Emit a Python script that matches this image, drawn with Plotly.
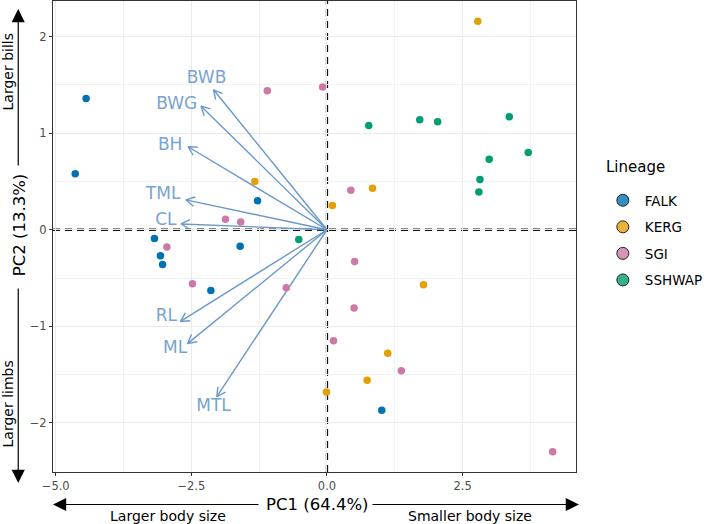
import math
import plotly.graph_objects as go

# ---------------- data ----------------
lineages = ["FALK", "KERG", "SGI", "SSHWAP"]
lineage_colors = ["#0072B2", "#E69F00", "#CC79A7", "#009E73"]
legend_fill = ["rgba(0,114,178,0.8)", "rgba(230,159,0,0.8)",
               "rgba(204,121,167,0.8)", "rgba(0,158,115,0.8)"]

falk_pc1 = [-4.44, -4.64, -1.28, -3.18, -3.07, -3.03, -1.60, -2.14, 1.01]
falk_pc2 = [1.36, 0.58, 0.30, -0.09, -0.27, -0.36, -0.17, -0.63, -1.87]
kerg_pc1 = [-1.33, 0.10, -0.01, 2.78, 0.84, 1.78, 1.12, 0.74]
kerg_pc2 = [0.50, 0.25, -1.68, 2.16, 0.43, -0.57, -1.28, -1.56]
sgi_pc1 = [-1.10, -0.08, -1.87, -1.59, -2.95, -2.48, -0.75, 0.12, 0.44, 0.51, 0.50, 1.37, 4.16]
sgi_pc2 = [1.44, 1.48, 0.11, 0.08, -0.18, -0.56, -0.60, -1.15, 0.41, -0.33, -0.81, -1.46, -2.30]
sshwap_pc1 = [-0.52, 0.77, 1.71, 2.04, 3.36, 3.71, 2.99, 2.82, 2.80]
sshwap_pc2 = [-0.10, 1.08, 1.14, 1.12, 1.17, 0.80, 0.73, 0.52, 0.39]

variables = ["BWB", "BWG", "BH", "TML", "CL", "RL", "ML", "MTL"]
load_pc1 = [-2.09, -2.32, -2.56, -2.60, -2.69, -2.70, -2.57, -2.03]
load_pc2 = [1.45, 1.28, 0.86, 0.31, 0.06, -0.95, -1.18, -1.73]
label_pc1 = [-2.22, -2.77, -2.89, -3.02, -2.97, -2.96, -2.80, -2.09]
label_pc2 = [1.56, 1.30, 0.875, 0.36, 0.09, -0.90, -1.23, -1.83]

x_tickvals = [-5.0, -2.5, 0.0, 2.5]
x_ticktext = ["\u22125.0", "\u22122.5", "0.0", "2.5"]
y_tickvals = [-2, -1, 0, 1, 2]
y_ticktext = ["\u22122", "\u22121", "0", "1", "2"]

x_title = "PC1 (64.4%)"
y_title = "PC2 (13.3%)"
x_left_note, x_right_note = "Larger body size", "Smaller body size"
y_top_note, y_bottom_note = "Larger bills", "Larger limbs"
legend_title = "Lineage"

# ---------------- layout constants ----------------
W, H = 709, 524
ML, MR, MT, MB = 53, 122, 1, 52
PW, PH = W - ML - MR, H - MT - MB
PB = H - MB  # pixel y of plot bottom
x_range = [-5.05, 4.59]
y_range = [-2.51, 2.37]
sx = PW / (x_range[1] - x_range[0])
sy = PH / (y_range[1] - y_range[0])

FONT = "DejaVu Sans"
ARROW_COL = "#6A98CA"
LABEL_COL = "#78A3D4"


def px2paper(px, py):
    return (px - ML) / PW, (PB - py) / PH


fig = go.Figure()

# ---- loading arrows (line + open V head) ----
arr_x, arr_y = [], []
head_len, head_ang = 10.0, math.radians(28)
for lx, ly in zip(load_pc1, load_pc2):
    arr_x += [0, lx, None]
    arr_y += [0, ly, None]
    dxp, dyp = lx * sx, ly * sy
    L = math.hypot(dxp, dyp)
    bx, by = -dxp / L, -dyp / L
    legs = []
    for s in (1, -1):
        a = s * head_ang
        rx = bx * math.cos(a) - by * math.sin(a)
        ry = bx * math.sin(a) + by * math.cos(a)
        legs.append((lx + head_len * rx / sx, ly + head_len * ry / sy))
    arr_x += [legs[0][0], lx, legs[1][0], None]
    arr_y += [legs[0][1], ly, legs[1][1], None]

fig.add_trace(go.Scatter(x=arr_x, y=arr_y, mode="lines",
                         line=dict(color=ARROW_COL, width=1.4),
                         hoverinfo="skip", showlegend=False))

# ---- points ----
series = [(falk_pc1, falk_pc2), (kerg_pc1, kerg_pc2),
          (sgi_pc1, sgi_pc2), (sshwap_pc1, sshwap_pc2)]
for name, col, (xs, ys) in zip(lineages, lineage_colors, series):
    fig.add_trace(go.Scatter(x=xs, y=ys, mode="markers", name=name,
                             marker=dict(color=col, size=7.5, line=dict(width=0)),
                             showlegend=False))

# ---- loading labels ----
fig.add_trace(go.Scatter(x=label_pc1, y=label_pc2, mode="text", text=variables,
                         textposition="middle center",
                         textfont=dict(family=FONT, size=17, color=LABEL_COL),
                         hoverinfo="skip", showlegend=False))

# ---- legend-only traces ----
for i, (name, fill) in enumerate(zip(lineages, legend_fill)):
    fig.add_trace(go.Scatter(x=[None], y=[None], mode="markers", name=name,
                             legendgroup=name,
                             marker=dict(color=fill, size=12,
                                         line=dict(color="#222222", width=1))))

# ---- dashed zero lines ----
fig.add_shape(type="line", xref="x", yref="paper", x0=0, x1=0, y0=0, y1=1,
              line=dict(color="#111111", width=2.3, dash="7px,5px"), layer="between")
fig.add_shape(type="line", xref="paper", yref="y", x0=0, x1=1, y0=0, y1=0,
              line=dict(color="#111111", width=2.3, dash="7px,5px"), layer="between")

# ---- axis arrows (outside the panel) ----
def axis_arrow(tail_px, head_px):
    hx, hy = px2paper(*head_px)
    fig.add_annotation(x=hx, y=hy, xref="paper", yref="paper", text="",
                       showarrow=True, arrowhead=2, arrowsize=2.2, arrowwidth=1.2,
                       arrowcolor="#000000",
                       ax=tail_px[0] - head_px[0], ay=tail_px[1] - head_px[1])

axis_arrow((260, 504.5), (53, 504.5))
axis_arrow((382, 504.5), (590, 504.5))
axis_arrow((17.5, 167), (17.5, 9))
axis_arrow((17.5, 287), (17.5, 483))


def text_at(px, py, txt, size, angle=0, color="#000000", xanchor="center"):
    x, y = px2paper(px, py)
    fig.add_annotation(x=x, y=y, xref="paper", yref="paper", text=txt,
                       showarrow=False, textangle=angle,
                       xanchor=xanchor, yanchor="middle",
                       font=dict(family=FONT, size=size, color=color))

text_at(323, 504, x_title, 16.5)
text_at(170, 516, x_left_note, 14)
text_at(479, 516, x_right_note, 14)
text_at(18.5, 225, y_title, 16.5, angle=-90)
text_at(7.5, 72, y_top_note, 14, angle=-90)
text_at(7.5, 404, y_bottom_note, 14, angle=-90)
text_at(616, 167, legend_title, 15, xanchor="left")

axis_common = dict(showline=True, mirror=True, linecolor="#333333", linewidth=1,
                   zeroline=False, showgrid=True, gridcolor="#EBEBEB", gridwidth=1.1,
                   ticks="outside", ticklen=3, tickcolor="#333333", tickwidth=1,
                   tickfont=dict(family=FONT, size=11.5, color="#4D4D4D"))

fig.update_layout(
    width=W, height=H,
    margin=dict(l=ML, r=MR, t=MT, b=MB),
    paper_bgcolor="white", plot_bgcolor="white",
    xaxis=dict(range=x_range, tickmode="array", tickvals=x_tickvals,
               ticktext=x_ticktext,
               minor=dict(tickvals=[-3.75, -1.25, 1.25, 3.75], showgrid=True,
                          gridcolor="#F2F2F2", gridwidth=0.8, ticklen=0),
               **axis_common),
    yaxis=dict(range=y_range, tickmode="array", tickvals=y_tickvals,
               ticktext=y_ticktext,
               minor=dict(tickvals=[-1.5, -0.5, 0.5, 1.5], showgrid=True,
                          gridcolor="#F2F2F2", gridwidth=0.8, ticklen=0),
               **axis_common),
    legend=dict(font=dict(family=FONT, size=13.5, color="#000000"),
                x=1.0475, y=(PB - 185) / PH, xanchor="left", yanchor="top",
                itemwidth=34,
                tracegroupgap=6, bgcolor="rgba(255,255,255,0)"),
    showlegend=True,
)

fig.write_html("out.html",
               config={"displayModeBar": False},
               post_script="document.body.style.margin='0';"
                           "document.body.style.overflow='hidden';")
